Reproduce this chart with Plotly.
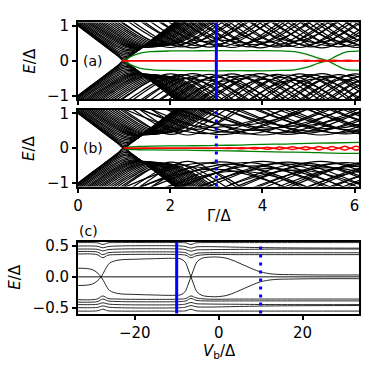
import plotly.graph_objects as go

# ---- panels (a) and (b): bulk levels, each drawn as a rounded "V" ----
# Gamma/Delta where a level reaches its minimum, and that minimum E/Delta
fan_gamma = [1.00, 1.005, 1.015, 1.03, 1.05, 1.07, 1.10, 1.13, 1.16, 1.20, 1.24, 1.28,
             1.32, 1.37, 1.42, 1.47, 1.52, 1.57, 1.63, 1.69, 1.75, 1.81, 1.87, 1.94]
fan_min = [0.00, 0.04, 0.08, 0.12, 0.16, 0.20, 0.24, 0.28, 0.31, 0.34, 0.36, 0.37,
           0.38, 0.38, 0.38, 0.39, 0.39, 0.40, 0.40, 0.41, 0.42, 0.43, 0.44, 0.45]

far_gamma_a = [2.00, 2.12, 2.24, 2.37, 2.49, 2.61, 2.73, 2.85, 2.98, 3.10, 3.22, 3.34,
               3.46, 3.59, 3.71, 3.83, 3.95, 4.07, 4.20, 4.32, 4.44, 4.56, 4.68, 4.81,
               4.93, 5.05, 5.17, 5.29, 5.42, 5.54, 5.66, 5.78, 5.90, 6.03, 6.15, 6.27,
               6.39, 6.51, 6.64, 6.76, 6.88, 7.00, 7.12, 7.25]
far_min_a = [0.38, 0.45, 0.40, 0.50, 0.37, 0.43, 0.55, 0.39, 0.47, 0.41, 0.58, 0.38,
             0.44, 0.51, 0.40, 0.46, 0.37, 0.53, 0.42, 0.39, 0.48, 0.41, 0.56, 0.38,
             0.45, 0.40, 0.52, 0.37, 0.44, 0.48, 0.40, 0.54, 0.42, 0.38, 0.46, 0.41,
             0.50, 0.39, 0.43, 0.55, 0.38, 0.47, 0.41, 0.44]

far_gamma_b = [2.02, 2.20, 2.38, 2.56, 2.74, 2.92, 3.10, 3.28, 3.46, 3.64, 3.82, 4.00,
               4.18, 4.36, 4.54, 4.72, 4.90, 5.08, 5.26, 5.44, 5.62, 5.80, 5.98, 6.16,
               6.34, 6.52, 6.70, 6.88, 7.06, 7.24, 7.42, 7.60, 7.78, 7.96]
far_min_b = [0.40, 0.47, 0.38, 0.54, 0.42, 0.60, 0.39, 0.46, 0.66, 0.41, 0.51, 0.38,
             0.58, 0.44, 0.40, 0.63, 0.43, 0.49, 0.38, 0.56, 0.44, 0.41, 0.52, 0.47,
             0.39, 0.61, 0.45, 0.40, 0.55, 0.43, 0.48, 0.38, 0.57, 0.44]

# in-gap states (upper branch; lower one is its mirror)
green_a_gamma = [1.00, 1.08, 1.20, 1.35, 1.60, 2.00, 2.50, 3.00, 3.50, 4.00, 4.40,
                 4.70, 4.95, 5.20, 5.40, 5.60, 5.80, 6.00, 6.10]
green_a_e = [0.00, 0.07, 0.15, 0.22, 0.26, 0.28, 0.285, 0.29, 0.285, 0.29, 0.28,
             0.26, 0.19, 0.08, 0.00, -0.13, -0.25, -0.27, -0.28]
red_a_gamma = [0.95, 2.0, 3.0, 4.0, 4.8, 4.95, 5.1, 5.25, 5.4, 5.55, 5.7, 5.85, 6.0, 6.1]
red_a_e = [0, 0, 0, 0, 0, 0.012, 0, 0.015, 0, 0.015, 0, 0.015, 0, 0.01]

green_b_gamma = [1.0, 1.1, 1.3, 1.6, 2.0, 2.5, 3.0, 3.5, 4.0, 4.5, 5.0, 5.5, 6.1]
green_b_up = [0.0, 0.035, 0.05, 0.06, 0.065, 0.07, 0.08, 0.09, 0.11, 0.12, 0.14, 0.15, 0.17]
green_b_lo = [0.0, -0.03, -0.045, -0.05, -0.055, -0.06, -0.07, -0.08, -0.10, -0.11,
              -0.12, -0.14, -0.15]
red_b_gamma = [1.0, 2.5, 3.13, 3.27, 3.41, 3.55, 3.69, 3.83, 3.97, 4.11, 4.24, 4.37,
               4.51, 4.65, 4.80, 4.94, 5.08, 5.22, 5.37, 5.51, 5.65, 5.79, 5.91, 6.02, 6.10]
red_b_e = [0, 0, 0, 0.01, 0, 0.015, 0, 0.02, 0, 0.03, 0, 0.035, 0, 0.04, 0, 0.045,
           0, 0.05, 0, 0.05, 0, 0.055, 0, 0.055, 0.03]

gamma_cut = 3.0

# ---- panel (c): levels against V_b/Delta (upper half; lower half mirrored) ----
cross_vb = [-33.5, -31.5, -30, -29, -28, -27, -26, -24, -20, -15, -11, -9, -8, -7.3,
            -6.6, -5.9, -5.2, -4, -2, 0, 2, 4, 6, 8, 10, 13, 18, 25, 33.5]
cross_e = [0.14, 0.135, 0.115, 0.07, 0.0, -0.12, -0.22, -0.27, -0.285, -0.295, -0.30,
           -0.29, -0.24, -0.13, 0.0, 0.13, 0.24, 0.30, 0.32, 0.32, 0.30, 0.25, 0.19,
           0.13, 0.08, 0.045, 0.035, 0.03, 0.03]
band_vb = [-33.5, -30, -28.8, -27.6, -26.4, -24, -15, -9, -7.8, -6.6, -5.4, -3, 5, 15, 33.5]
band_e1 = [0.555, 0.555, 0.55, 0.525, 0.55, 0.555, 0.555, 0.555, 0.55, 0.525, 0.55,
           0.555, 0.555, 0.555, 0.555]
band_e2 = [0.50, 0.50, 0.495, 0.47, 0.49, 0.50, 0.505, 0.50, 0.49, 0.465, 0.485, 0.49,
           0.48, 0.47, 0.465]
band_e3 = [0.45, 0.45, 0.445, 0.42, 0.44, 0.45, 0.455, 0.45, 0.44, 0.415, 0.435, 0.44,
           0.445, 0.45, 0.45]
band_e4 = [0.41, 0.41, 0.40, 0.36, 0.39, 0.40, 0.405, 0.40, 0.39, 0.35, 0.38, 0.39,
           0.39, 0.39, 0.39]
band_e5 = [0.37, 0.37, 0.355, 0.31, 0.35, 0.36, 0.365, 0.36, 0.35, 0.31, 0.34, 0.36,
           0.36, 0.36, 0.36]
zero_vb = [-33.5, 33.5]
vb_cuts = [-10, 10]

ARM = [-1.6, -1.1, -0.75, -0.5, -0.3, -0.15, 0, 0.15, 0.3, 0.5, 0.75, 1.1, 1.6]


def bulk(centres, minima, slope=1.0, steep_below=0.0):
    xs, ys = [], []
    for s, m in zip(centres, minima):
        k = 1.0 if s < steep_below else slope
        for sign in (1, -1):
            for d in ARM:
                xs.append(s + d / k)
                ys.append(sign * (d * d + m * m) ** 0.5)
            xs.append(None)
            ys.append(None)
    return xs, ys


def mirrored(xv, ev):
    return list(xv) + [None] + list(xv), list(ev) + [None] + [-e for e in ev]


fig = go.Figure()


def add(xs, ys, ax, color, width):
    fig.add_trace(go.Scatter(x=xs, y=ys, xaxis='x' + ax, yaxis='y' + ax, mode='lines',
                             line=dict(color=color, width=width, shape='spline', smoothing=1),
                             hoverinfo='skip', showlegend=False))


fx, fy = bulk(fan_gamma, fan_min)
bx, by = bulk(far_gamma_a, far_min_a)
add(fx + bx, fy + by, '', 'black', 1.2)
add(*mirrored(green_a_gamma, green_a_e), '', 'green', 1.3)
add(*mirrored(red_a_gamma, red_a_e), '', 'red', 1.5)

bx, by = bulk(far_gamma_b, far_min_b, slope=0.6, steep_below=2.6)
add(fx + bx, fy + by, '2', 'black', 1.2)
add(green_b_gamma + [None] + green_b_gamma, green_b_up + [None] + green_b_lo, '2', 'green', 1.3)
add(*mirrored(red_b_gamma, red_b_e), '2', 'red', 1.5)

for ev in (band_e1, band_e2, band_e3, band_e4, band_e5):
    add(*mirrored(band_vb, ev), '3', '#111', 0.9)
add(*mirrored(cross_vb, cross_e), '3', '#111', 0.9)
add(zero_vb, [0, 0], '3', '#111', 1.0)

shapes = [
    dict(type='line', xref='x', yref='y domain', x0=gamma_cut, x1=gamma_cut, y0=0, y1=1,
         line=dict(color='blue', width=3)),
    dict(type='line', xref='x2', yref='y2 domain', x0=gamma_cut, x1=gamma_cut, y0=0, y1=1,
         line=dict(color='blue', width=3, dash='3px,5px')),
    dict(type='line', xref='x3', yref='y3 domain', x0=vb_cuts[0], x1=vb_cuts[0], y0=0, y1=1,
         line=dict(color='blue', width=3)),
    dict(type='line', xref='x3', yref='y3 domain', x0=vb_cuts[1], x1=vb_cuts[1], y0=0, y1=1,
         line=dict(color='blue', width=3, dash='3px,5px')),
]

axis = dict(showline=True, linecolor='black', linewidth=2, mirror=True, ticks='outside',
            ticklen=4, tickwidth=1.5, tickcolor='black', showgrid=False, zeroline=False,
            tickfont=dict(size=15, color='black'))
xdom = [0.198, 0.960]


def label(text, x, y, size=15, angle=0):
    return dict(text=text, x=x, y=y, xref='paper', yref='paper', xanchor='center',
                yanchor='middle', textangle=angle, showarrow=False, font=dict(size=size))


fig.update_layout(
    width=374, height=374, margin=dict(l=0, r=0, t=0, b=0),
    paper_bgcolor='white', plot_bgcolor='white',
    font=dict(family='DejaVu Sans', size=15, color='black'),
    shapes=shapes,
    xaxis=dict(axis, domain=xdom, anchor='y', range=[0, 6.1], tickvals=[0, 2, 4, 6],
               showticklabels=False),
    yaxis=dict(axis, domain=[0.741, 0.952], anchor='x', range=[-1.1, 1.1], tickvals=[-1, 0, 1]),
    xaxis2=dict(axis, domain=xdom, anchor='y2', range=[0, 6.1], tickvals=[0, 2, 4, 6]),
    yaxis2=dict(axis, domain=[0.500, 0.711], anchor='x2', range=[-1.1, 1.1], tickvals=[-1, 0, 1]),
    xaxis3=dict(axis, domain=xdom, anchor='y3', range=[-33.5, 33.5], tickvals=[-20, 0, 20]),
    yaxis3=dict(axis, domain=[0.150, 0.348], anchor='x3', range=[-0.595, 0.57],
                tickvals=[-0.5, 0, 0.5], ticktext=['\u22120.5', '0.0', '0.5']),
    annotations=[
        label('<i>E</i>/Δ', 0.067, 0.846, angle=-90),
        label('<i>E</i>/Δ', 0.067, 0.605, angle=-90),
        label('<i>E</i>/Δ', 0.027, 0.251, angle=-90),
        label('Γ/Δ', 0.58, 0.42),
        label('<i>V</i><sub>b</sub>/Δ', 0.58, 0.045),
        label('(a)', 0.238, 0.847, size=14),
        label('(b)', 0.238, 0.606, size=14),
        label('(c)', 0.227, 0.378, size=14),
    ],
)

# the page's default 8px body margin would push the fixed-size figure off the window
fig.write_html("out.html", config={'displayModeBar': False},
               post_script="document.body.style.margin='0px';")
